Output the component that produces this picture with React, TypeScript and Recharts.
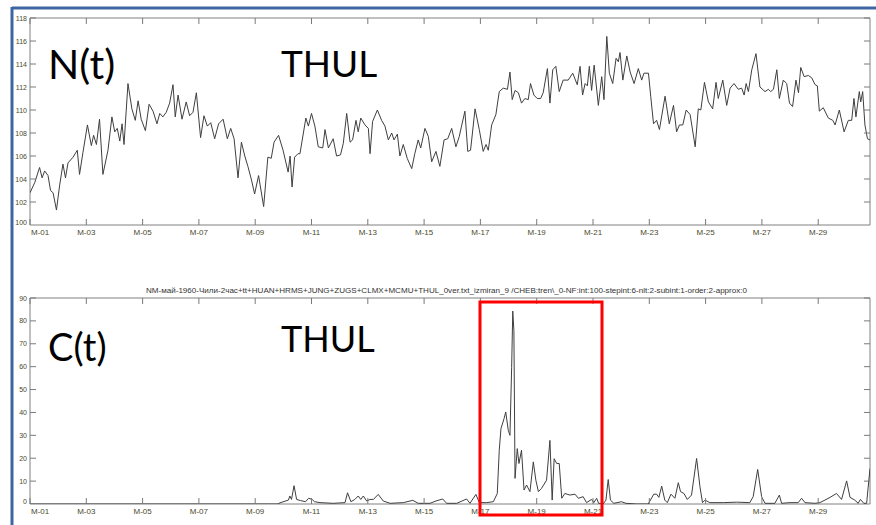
import { LineChart, Line, XAxis, YAxis, ReferenceArea } from "recharts"

// day-of-month ticks (odd days) and their labels
const dayTicks = [1, 3, 5, 7, 9, 11, 13, 15, 17, 19, 21, 23, 25, 27, 29]
const dayLabels = [
  "M-01", "M-03", "M-05", "M-07", "M-09", "M-11", "M-13", "M-15",
  "M-17", "M-19", "M-21", "M-23", "M-25", "M-27", "M-29",
]
const nTicks = [100, 102, 104, 106, 108, 110, 112, 114, 116, 118]
const cTicks = [0, 10, 20, 30, 40, 50, 60, 70, 80, 90]
const lastDay = 30.84

const titleText =
  "NM-май-1960-Чили-2час+tt+HUAN+HRMS+JUNG+ZUGS+CLMX+MCMU+THUL_0ver.txt_izmiran_9 /CHEB:tren\\_0-NF:int:100-stepint:6-nlt:2-subint:1-order:2-approx:0"

// N(t) — neutron monitor counts, THUL
const nTimes = [
  1.0, 1.17, 1.34, 1.43, 1.52, 1.64, 1.73, 1.82, 1.94, 2.05, 2.17, 2.26, 2.35, 2.53, 2.68, 2.76, 2.88,
  3.04, 3.18, 3.26, 3.36, 3.47, 3.59, 3.77, 3.91, 4.01, 4.1, 4.19, 4.27, 4.34, 4.48, 4.62, 4.74, 4.84,
  4.95, 5.1, 5.23, 5.37, 5.51, 5.61, 5.72, 5.84, 5.96, 6.08, 6.16, 6.26, 6.4, 6.55, 6.67, 6.79, 6.91,
  7.06, 7.18, 7.3, 7.42, 7.56, 7.7, 7.86, 8.01, 8.13, 8.25, 8.39, 8.51, 8.63, 8.74, 8.86, 8.98, 9.12,
  9.3, 9.45, 9.57, 9.67, 9.83, 9.99, 10.17, 10.24, 10.31, 10.4, 10.52, 10.59, 10.8, 10.89, 11.0, 11.12,
  11.24, 11.4, 11.48, 11.6, 11.77, 11.89, 12.03, 12.13, 12.25, 12.37, 12.46, 12.58, 12.66, 12.75, 12.9,
  13.02, 13.08, 13.17, 13.34, 13.49, 13.61, 13.73, 13.85, 13.93, 14.05, 14.14, 14.26, 14.4, 14.56, 14.67,
  14.79, 14.88, 15.03, 15.15, 15.27, 15.42, 15.56, 15.71, 15.84, 15.98, 16.13, 16.25, 16.33, 16.45, 16.55,
  16.65, 16.81, 16.96, 17.1, 17.2, 17.28, 17.4, 17.55, 17.67, 17.81, 17.96, 18.05, 18.13, 18.23, 18.35,
  18.46, 18.58, 18.7, 18.78, 18.9, 19.02, 19.14, 19.23, 19.38, 19.47, 19.57, 19.68, 19.8, 19.94, 20.12,
  20.28, 20.44, 20.54, 20.63, 20.72, 20.8, 20.87, 20.95, 21.04, 21.19, 21.31, 21.39, 21.49, 21.58, 21.7,
  21.82, 21.9, 21.96, 22.06, 22.2, 22.32, 22.46, 22.61, 22.73, 22.81, 22.97, 23.05, 23.15, 23.26, 23.36,
  23.56, 23.71, 23.86, 23.97, 24.07, 24.19, 24.31, 24.45, 24.63, 24.74, 24.83, 24.96, 25.1, 25.25, 25.37,
  25.45, 25.61, 25.75, 25.87, 26.01, 26.16, 26.28, 26.37, 26.44, 26.52, 26.64, 26.79, 26.93, 27.11, 27.23,
  27.31, 27.41, 27.53, 27.62, 27.76, 27.88, 27.98, 28.09, 28.21, 28.3, 28.38, 28.5, 28.65, 28.77, 28.89,
  28.97, 29.04, 29.18, 29.36, 29.52, 29.6, 29.75, 29.92, 30.07, 30.19, 30.27, 30.34, 30.46, 30.51, 30.58,
  30.66, 30.75, 30.84,
]
const nValues = [
  102.8, 103.7, 105.0, 104.1, 104.7, 104.3, 103.0, 102.8, 101.3, 103.4, 105.3, 104.1, 105.4, 105.9, 106.5, 104.4, 106.3,
  108.7, 106.9, 107.8, 107.0, 109.2, 104.4, 106.5, 109.4, 108.1, 108.4, 107.3, 108.8, 107.0, 112.3, 110.1, 109.1, 110.8,
  109.2, 108.2, 110.5, 109.9, 108.8, 109.7, 109.4, 109.8, 110.6, 112.2, 109.4, 111.3, 109.2, 110.7, 109.5, 109.8, 111.5,
  107.6, 109.5, 108.6, 108.9, 107.5, 108.8, 109.2, 107.5, 108.4, 107.5, 104.1, 107.2, 106.0, 105.1, 104.0, 102.7, 104.3,
  101.6, 105.9, 105.8, 107.2, 107.8, 106.5, 104.6, 106.0, 103.3, 105.9, 106.2, 106.2, 109.3, 108.6, 109.7, 108.6,
  106.8, 106.7, 108.3, 106.7, 107.5, 106.0, 106.1, 107.1, 109.7, 107.2, 107.4, 109.1, 108.1, 109.3, 108.7,
  108.4, 106.2, 109.0, 110.0, 109.1, 108.6, 107.4, 108.0, 107.4, 107.9, 106.0, 107.0, 105.8, 104.9, 106.2,
  107.4, 106.7, 108.4, 107.7, 105.5, 106.4, 105.1, 107.4, 107.5, 108.4, 106.8, 107.7, 108.6, 109.9, 106.4,
  106.5, 110.1, 108.3, 106.4, 107.0, 106.5, 108.7, 109.6, 111.6, 111.9, 111.8, 113.3, 110.9, 111.7, 111.5,
  110.6, 111.0, 110.9, 112.3, 111.3, 111.0, 111.0, 111.5, 113.6, 110.6, 113.5, 113.8, 111.6, 112.6, 112.6,
  113.2, 112.2, 113.8, 111.3, 112.3, 112.1, 113.8, 111.7, 113.9, 110.4, 112.9, 110.9, 116.4, 113.2, 112.3,
  114.5, 114.2, 115.0, 112.6, 114.7, 113.3, 112.3, 113.6, 112.6, 113.2, 113.2, 111.2, 108.8, 109.1, 108.3,
  111.2, 108.8, 110.4, 108.1, 108.7, 108.7, 110.0, 109.6, 106.8, 110.1, 110.0, 112.4, 110.7, 110.1, 112.4,
  111.0, 112.6, 110.4, 111.9, 112.3, 111.8, 111.9, 111.3, 112.3, 111.6, 113.5, 114.9, 112.0, 111.6, 111.8,
  111.6, 111.8, 113.5, 111.0, 112.6, 112.3, 110.6, 110.3, 112.6, 111.5, 113.7, 112.9, 113.0, 112.8, 112.2,
  112.1, 109.9, 110.2, 109.3, 109.1, 108.7, 110.0, 108.1, 109.1, 109.1, 111.0, 109.4, 111.6, 110.7, 111.6,
  108.7, 107.5, 107.4,
]

// C(t) — CHEB indicator, THUL
const cTimes = [
  1.0, 9.8, 9.88, 10.18, 10.23, 10.29, 10.38, 10.47, 10.61, 10.79, 10.9, 11.02, 11.11, 11.3, 11.77, 12.19,
  12.28, 12.4, 12.54, 12.66, 12.75, 12.84, 12.96, 13.08, 13.2, 13.37, 13.55, 13.79, 14.26, 14.6, 14.79,
  15.21, 15.42, 15.66, 15.8, 16.16, 16.51, 16.63, 16.84, 16.96, 17.22, 17.46, 17.6, 17.67, 17.73, 17.84,
  17.9, 17.99, 18.05, 18.11, 18.15, 18.19, 18.23, 18.31, 18.37, 18.46, 18.55, 18.64, 18.76, 18.88, 18.97,
  19.06, 19.17, 19.35, 19.47, 19.55, 19.62, 19.71, 19.8, 19.89, 20.0, 20.18, 20.36, 20.48, 20.65, 20.77,
  20.95, 21.03, 21.13, 21.2, 21.36, 21.46, 21.54, 21.62, 21.74, 22.01, 22.17, 22.55, 22.96, 23.16, 23.26,
  23.34, 23.44, 23.55, 23.64, 23.77, 23.91, 24.03, 24.11, 24.23, 24.35, 24.5, 24.68, 24.8, 24.89, 24.98,
  25.15, 25.63, 26.1, 26.57, 26.69, 26.85, 26.99, 27.11, 27.46, 27.62, 27.7, 28.0, 28.29, 28.41, 28.53,
  28.88, 29.06, 29.24, 29.42, 29.65, 29.83, 30.01, 30.13, 30.3, 30.42, 30.5, 30.62, 30.72, 30.84,
]
const cValues = [
  0, 0, 0.5, 1.7, 3.5, 2.0, 8.0, 2.0, 1.5, 1.0, 2.5, 2.0, 1.0, 0.6, 0.3, 0.6,
  4.9, 1.0, 2.0, 3.5, 2.0, 3.5, 1.3, 2.0, 2.0, 4.2, 1.3, 0.3, 0.6, 1.6, 0.3,
  0.3, 1.3, 2.2, 0.3, 0.3, 2.2, 0.3, 4.2, 0.6, 0.6, 1.0, 4.6, 23.5, 32.9, 37.3,
  40.2, 32.2, 30.0, 59.7, 84.3, 75.7, 11.2, 24.2, 17.7, 23.5, 6.1, 8.3, 5.4, 18.4, 10.4,
  5.4, 6.8, 10.4, 27.8, 1.7, 19.8, 17.7, 17.7, 2.5, 4.6, 3.9, 4.3, 2.5, 3.2, 0.6,
  2.0, 0.6, 2.5, 0.3, 0, 1.7, 10.7, 1.7, 0.3, 1.0, 0.3, 0, 0, 4.3, 4.3,
  2.9, 7.8, 1.7, 0.6, 4.3, 2.5, 9.3, 5.4, 4.6, 2.0, 3.9, 19.9, 7.5, 0.6, 1.7,
  0.6, 0.6, 0.8, 0.6, 3.2, 15.1, 3.2, 0.3, 0.3, 3.9, 0.3, 0.6, 0.6, 2.5, 0.6,
  0.3, 0.6, 1.7, 2.9, 4.6, 2.0, 10.1, 2.9, 1.7, 0.3, 2.0, 0.3, 0.3, 15.5,
]

const nData = nTimes.map((t, i) => ({ t, v: nValues[i] }))
const cData = cTimes.map((t, i) => ({ t, v: cValues[i] }))

const PLOT_W = 840
const TICK = 6
const tickColor = "#7a7a7a"
const labelColor = "#4a4a2c"
const tickFont = "'Liberation Sans', Arial, sans-serif"

// bottom x tick: inward tick at bottom and top of the box plus label
const makeXTick = (plotH: number, dy: number) => (props: any) => {
  const { x, y, payload } = props
  const i = dayTicks.indexOf(payload.value)
  const first = i === 0
  return (
    <g>
      <line x1={x} y1={y} x2={x} y2={y - TICK} stroke={tickColor} />
      <line x1={x} y1={y - plotH} x2={x} y2={y - plotH + TICK} stroke={tickColor} />
      <text
        x={first ? x + 1 : x}
        y={y + dy}
        textAnchor={first ? "start" : "middle"}
        fontSize={8}
        fontFamily={tickFont}
        fill={labelColor}
      >
        {dayLabels[i]}
      </text>
    </g>
  )
}

// left y tick: inward tick at left and right side plus label
const makeYTick = (bottomVal: number) => (props: any) => {
  const { x, y, payload } = props
  const isBottom = payload.value === bottomVal
  return (
    <g>
      {!isBottom && <line x1={x} y1={y} x2={x + TICK} y2={y} stroke={tickColor} />}
      {!isBottom && <line x1={x + PLOT_W} y1={y} x2={x + PLOT_W - TICK} y2={y} stroke={tickColor} />}
      <text
        x={x - 3}
        y={isBottom ? y : y + 2.5}
        textAnchor="end"
        fontSize={7}
        fontFamily={tickFont}
        fill={labelColor}
      >
        {payload.value}
      </text>
    </g>
  )
}

const bigFont = "Lato, 'Open Sans', sans-serif"

export default function App() {
  return (
    <div
      style={{
        position: "absolute",
        left: 0,
        top: 0,
        width: 876,
        height: 525,
        background: "#fff",
        overflow: "hidden",
      }}
    >
      <div style={{ position: "absolute", left: 0, top: 0 }}>
        <LineChart width={876} height={250} data={nData} margin={{ top: 18, right: 6, bottom: 0, left: 0 }}>
          <XAxis
            dataKey="t"
            type="number"
            domain={[1, lastDay]}
            ticks={dayTicks}
            interval={0}
            allowDataOverflow
            height={25}
            tickSize={0}
            tickMargin={0}
            tickLine={false}
            axisLine={false}
            tick={makeXTick(207, 10)}
          />
          <YAxis
            type="number"
            domain={[100, 118]}
            ticks={nTicks}
            interval={0}
            allowDataOverflow
            width={30}
            tickSize={0}
            tickMargin={0}
            tickLine={false}
            axisLine={false}
            tick={makeYTick(100)}
          />
          <ReferenceArea x1={1} x2={lastDay} y1={100} y2={118} fill="none" stroke="#808080" strokeWidth={1} />
          <Line
            type="linear"
            dataKey="v"
            stroke="#3f3f3f"
            strokeWidth={1}
            dot={false}
            isAnimationActive={false}
          />
        </LineChart>
      </div>

      <div style={{ position: "absolute", left: 0, top: 250 }}>
        <LineChart width={876} height={275} data={cData} margin={{ top: 48, right: 6, bottom: 0, left: 0 }}>
          <XAxis
            dataKey="t"
            type="number"
            domain={[1, lastDay]}
            ticks={dayTicks}
            interval={0}
            allowDataOverflow
            height={21}
            tickSize={0}
            tickMargin={0}
            tickLine={false}
            axisLine={false}
            tick={makeXTick(206, 10)}
          />
          <YAxis
            type="number"
            domain={[0, 90]}
            ticks={cTicks}
            interval={0}
            allowDataOverflow
            width={30}
            tickSize={0}
            tickMargin={0}
            tickLine={false}
            axisLine={false}
            tick={makeYTick(0)}
          />
          <ReferenceArea x1={1} x2={lastDay} y1={0} y2={90} fill="none" stroke="#808080" strokeWidth={1} />
          <Line
            type="linear"
            dataKey="v"
            stroke="#3f3f3f"
            strokeWidth={1}
            dot={false}
            isAnimationActive={false}
          />
        </LineChart>
      </div>

      {/* slide annotations */}
      <svg
        width={876}
        height={525}
        style={{ position: "absolute", left: 0, top: 0, pointerEvents: "none" }}
      >
        <line x1={12} y1={8} x2={876} y2={8} stroke="#3d66a3" strokeWidth={3} />
        <line x1={12} y1={7} x2={12} y2={525} stroke="#3d66a3" strokeWidth={3} />
        <text x={48} y={79} fontSize={41} fontFamily={bigFont} fill="#000">N(t)</text>
        <text x={281} y={77} fontSize={37} fontFamily={bigFont} fill="#000">THUL</text>
        <text x={48} y={361} fontSize={38} fontFamily={bigFont} fill="#000">C(t)</text>
        <text x={281} y={352} fontSize={36} fontFamily={bigFont} fill="#000">THUL</text>
        <text
          x={146}
          y={292.5}
          fontSize={7}
          fontFamily={tickFont}
          fill="#333"
          textLength={601}
          lengthAdjust="spacingAndGlyphs"
        >
          {titleText}
        </text>
        <rect x={480} y={302} width={122} height={213} fill="none" stroke="#ff0000" strokeWidth={3} />
      </svg>
    </div>
  )
}
